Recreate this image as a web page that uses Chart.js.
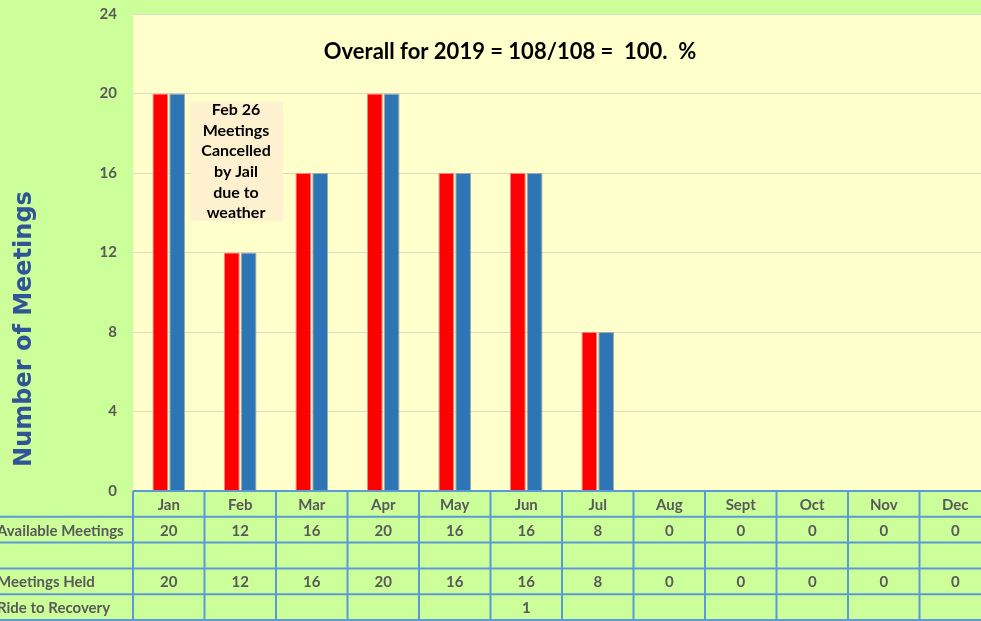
<!DOCTYPE html>
<html>
<head>
<meta charset="utf-8">
<script src="https://cdn.jsdelivr.net/npm/chart.js@4/dist/chart.umd.min.js"></script>
<style>
  html, body { margin: 0; padding: 0; background: #ccff99; overflow: hidden; }
  #wrap { width: 981px; height: 621px; overflow: hidden; }
  canvas { display: block; }
</style>
</head>
<body>
<div id="wrap"><canvas id="c" width="1000" height="621" style="width:1000px;height:621px"></canvas></div>
<script>
// Meetings per month, 2019 — bars are the two table rows, the table sits under the plot.
const MONTHS = ['Jan', 'Feb', 'Mar', 'Apr', 'May', 'Jun', 'Jul', 'Aug', 'Sept', 'Oct', 'Nov', 'Dec'];
const AVAILABLE = [20, 12, 16, 20, 16, 16, 8, 0, 0, 0, 0, 0];
const HELD = [20, 12, 16, 20, 16, 16, 8, 0, 0, 0, 0, 0];
const RIDE = [null, null, null, null, null, 1, null, null, null, null, null, null];
const BLANK = MONTHS.map(() => null);
const Y_MIN = 0, Y_MAX = 24, Y_STEP = 4;

const TITLE = 'Overall for 2019 = 108/108 =  100.  %';
const NOTE = ['Feb 26', 'Meetings', 'Cancelled', 'by Jail', 'due to', 'weather'];
const Y_TITLE = 'Number of Meetings';
const TABLE_ROWS = [
  ['Available Meetings', AVAILABLE],
  ['', BLANK],
  ['Meetings Held', HELD],
  ['Ride to Recovery', RIDE],
];

const FONT = 'Lato, "Open Sans", sans-serif';
const GREY = '#595959';
const LINE = '#5b9bd5';

// pale-yellow plot area behind the bars
const plotBg = {
  id: 'plotBg',
  beforeDraw(chart) {
    const { ctx, chartArea: a } = chart;
    ctx.save();
    ctx.fillStyle = '#ffffcc';
    ctx.fillRect(a.left, a.top, a.right - a.left, a.bottom - a.top);
    ctx.restore();
  },
};

// title, the Feb note, the axis title and the data table
const extras = {
  id: 'extras',
  afterDraw(chart) {
    const { ctx, chartArea: a } = chart;
    const x = chart.scales.x;
    ctx.save();

    // headline
    ctx.fillStyle = '#000';
    ctx.font = `bold 22px ${FONT}`;
    ctx.textAlign = 'center';
    ctx.textBaseline = 'middle';
    ctx.fillText(TITLE, a.left + 377, a.top + 38);

    // note box
    ctx.fillStyle = '#fdf1cf';
    ctx.fillRect(a.left + 57, a.top + 88, 93, 119);
    ctx.fillStyle = '#000';
    ctx.font = `bold 16px ${FONT}`;
    NOTE.forEach((t, i) => ctx.fillText(t, a.left + 103, a.top + 96 + i * 20.6));

    // y-axis title
    ctx.save();
    ctx.translate(25, 329);
    ctx.rotate(-Math.PI / 2);
    ctx.fillStyle = '#2f5597';
    ctx.font = `bold 24px "DejaVu Sans", sans-serif`;
    ctx.fillText(Y_TITLE, 0, 0);
    ctx.restore();

    // data table
    const colW = (a.right - a.left) / MONTHS.length;
    const rowH = 25.8;
    const top = a.bottom;
    const nRows = TABLE_ROWS.length + 1;
    const bottom = top + rowH * nRows;

    ctx.font = `bold 15px ${FONT}`;
    ctx.fillStyle = GREY;
    ctx.textAlign = 'center';
    MONTHS.forEach((m, i) => ctx.fillText(m, x.getPixelForValue(i), top + rowH / 2 + 1));
    TABLE_ROWS.forEach(([label, vals], r) => {
      const cy = top + rowH * (r + 1.5) + 1;
      ctx.textAlign = 'left';
      ctx.fillText(label, -3, cy);
      ctx.textAlign = 'center';
      vals.forEach((v, i) => { if (v !== null) ctx.fillText(String(v), x.getPixelForValue(i), cy); });
    });

    ctx.strokeStyle = LINE;
    ctx.lineWidth = 2;
    ctx.beginPath();
    ctx.moveTo(a.left, top); ctx.lineTo(a.right, top);
    for (let r = 1; r <= nRows; r++) {
      const y = Math.min(top + rowH * r, 620);
      ctx.moveTo(0, y); ctx.lineTo(a.right, y);
    }
    for (let i = 0; i <= MONTHS.length; i++) {
      const xx = a.left + colW * i;
      ctx.moveTo(xx, top); ctx.lineTo(xx, Math.min(bottom, 620));
    }
    ctx.stroke();
    ctx.restore();
  },
};

new Chart(document.getElementById('c'), {
  type: 'bar',
  data: {
    labels: MONTHS,
    datasets: [
      { label: 'Available Meetings', data: AVAILABLE, backgroundColor: '#ff0000', borderColor: '#ff8080', borderWidth: 1 },
      { label: 'Meetings Held', data: HELD, backgroundColor: '#2e75b6', borderColor: '#a6a6a6', borderWidth: 1 },
    ],
  },
  options: {
    responsive: false,
    animation: false,
    devicePixelRatio: 1,
    layout: { padding: { left: 0, top: 14, right: 9, bottom: 130 } },
    plugins: { legend: { display: false }, tooltip: { enabled: false } },
    datasets: { bar: { categoryPercentage: 0.47, barPercentage: 0.94 } },
    scales: {
      x: { display: false },
      y: {
        min: Y_MIN, max: Y_MAX,
        ticks: { stepSize: Y_STEP, color: GREY, font: { family: FONT, weight: 'bold', size: 15 }, padding: 16 },
        grid: { color: '#dcdcc4', drawTicks: false },
        border: { display: false },
        // fixed gutter; the top label may overhang the padding
        afterFit(s) { s.width = 133; s.paddingTop = 0; s.paddingBottom = 0; },
      },
    },
  },
  plugins: [plotBg, extras],
});
</script>
</body>
</html>
